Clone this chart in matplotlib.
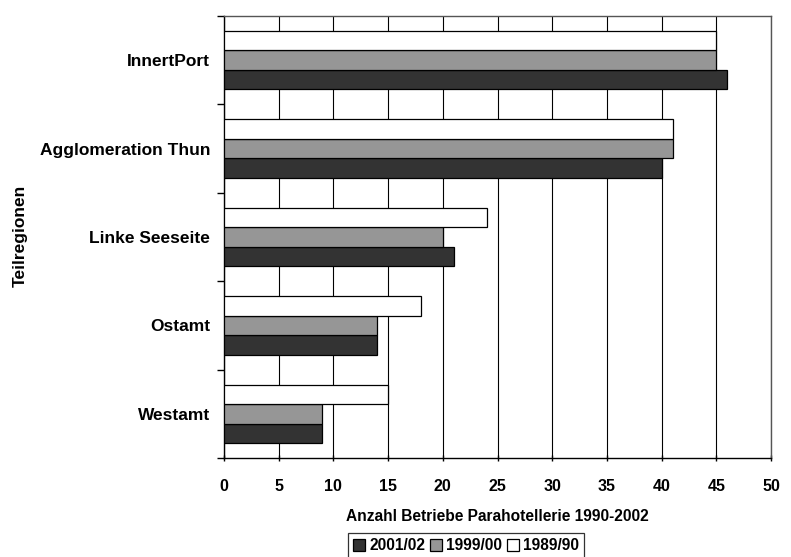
import matplotlib
matplotlib.use("Agg")
import matplotlib.pyplot as plt
import numpy as np

plt.rcParams['font.family'] = ['Liberation Sans', 'DejaVu Sans']
plt.rcParams['font.weight'] = 'bold'

categories = ["InnertPort", "Agglomeration Thun", "Linke Seeseite", "Ostamt", "Westamt"]
series_names = ["2001/02", "1999/00", "1989/90"]
v_2001 = [46, 40, 21, 14, 9]
v_1999 = [45, 41, 20, 14, 9]
v_1989 = [45, 41, 24, 18, 15]
colors = ["#333333", "#969696", "#ffffff"]

fig = plt.figure(figsize=(7.91, 5.57), dpi=100)
ax = fig.add_axes([224/791, 1-458/557, (771-224)/791, (458-16)/557])

n = len(categories)
ypos = np.arange(n)[::-1].astype(float)  # InnertPort on top
h = 0.22
for vals, off, col, name in [(v_2001, -h, colors[0], series_names[0]),
                             (v_1999, 0, colors[1], series_names[1]),
                             (v_1989, h, colors[2], series_names[2])]:
    ax.barh(ypos + off, vals, height=h, color=col, edgecolor='black', linewidth=0.9, label=name, zorder=3)

ax.set_xlim(0, 50)
ax.set_ylim(-0.5, n - 0.5)
ax.set_xticks(np.arange(0, 51, 5))
ax.set_yticks(ypos)
ax.set_yticklabels(categories, fontsize=12.5, fontweight='bold')
ax.set_yticks(np.arange(-0.5, n, 1.0), minor=True)
ax.tick_params(axis='y', which='major', length=0, pad=10)
ax.tick_params(axis='y', which='minor', length=5, width=1, direction='out')
ax.tick_params(axis='x', which='major', length=4, width=1, direction='inout', labelsize=11.5, pad=13)
for lab in ax.get_xticklabels():
    lab.set_fontweight('bold')
ax.grid(axis='x', color='black', linewidth=0.8, zorder=0)
for s in ax.spines.values():
    s.set_linewidth(1)
ax.spines['right'].set_color('#555555')
ax.spines['top'].set_color('#555555')

ax.set_xlabel("Anzahl Betriebe Parahotellerie 1990-2002", fontsize=11.2, fontweight='bold', labelpad=11)
fig.text(20/791, 1-236/557, "Teilregionen", rotation=90, ha='center', va='center', fontsize=12.5, fontweight='bold')

leg = fig.legend(loc='center', bbox_to_anchor=(466/791, 1-545.5/557), ncol=3, frameon=True,
                 fancybox=False, edgecolor='black', fontsize=11.2, handlelength=0.8, handleheight=0.8,
                 handletextpad=0.25, columnspacing=0.3, borderpad=0.3, borderaxespad=0)
leg.get_frame().set_linewidth(0.9)

fig.savefig("out.png", dpi=100)
